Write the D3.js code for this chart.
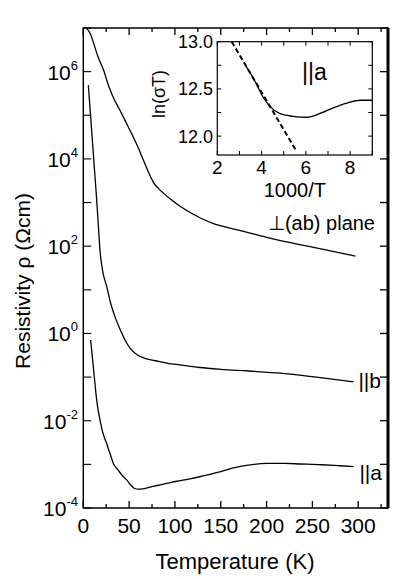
<!DOCTYPE html>
<html>
<head>
<meta charset="utf-8">
<script src="https://cdn.jsdelivr.net/npm/d3@7"></script>
<style>
  body { margin: 0; background: #fff; }
  text { font-family: "Liberation Sans", Arial, sans-serif; fill: #000; }
</style>
</head>
<body>
<svg></svg>
<script>
// perpendicular to (ab) plane
const tempPerp = [3, 5, 8, 12, 16, 22, 28, 33, 40, 47, 53, 60, 66, 72, 77, 83, 88, 95, 106, 120, 142, 160, 178, 200, 226, 250, 275, 297];
const rhoPerp = [1.0e7, 9.1e6, 7.1e6, 4.0e6, 2.2e6, 1.1e6, 4.5e5, 2.5e5, 1.3e5, 6.6e4, 3.7e4, 1.8e4, 8.9e3, 4.5e3, 2.8e3, 2.0e3, 1.6e3, 1.2e3, 8.1e2, 5.4e2, 3.3e2, 2.6e2, 2.1e2, 1.6e2, 1.2e2, 95, 74, 59];
// parallel to b
const tempB = [5.5, 8, 10, 12, 14.6, 16.5, 18.2, 21, 25.5, 30, 34.6, 40, 45.5, 51, 56.4, 65, 72.8, 82, 91, 105.6, 127, 150, 180, 215, 250, 295];
const rhoB = [4.9e5, 9.3e4, 2.5e4, 6.5e3, 1.15e3, 2.8e2, 81, 28, 12, 4.8, 2.4, 1.26, 0.71, 0.46, 0.35, 0.28, 0.25, 0.23, 0.21, 0.19, 0.166, 0.151, 0.138, 0.123, 0.102, 0.078];
// parallel to a
const tempA = [8, 10, 12, 14.6, 16.5, 18.2, 21, 25.5, 29, 32.8, 38, 43, 47.4, 51, 56, 60, 65, 70, 78, 84, 92, 102, 115, 127, 138, 150, 164, 180, 200, 220, 237, 260, 280, 295];
const rhoA = [0.71, 0.27, 0.102, 0.030, 0.016, 0.0105, 5.6e-3, 3.0e-3, 1.8e-3, 1.05e-3, 7.4e-4, 5.4e-4, 4.4e-4, 3.5e-4, 2.8e-4, 2.7e-4, 2.75e-4, 2.9e-4, 3.2e-4, 3.4e-4, 3.7e-4, 4.1e-4, 4.6e-4, 5.2e-4, 5.9e-4, 6.8e-4, 8.3e-4, 9.6e-4, 1.05e-3, 1.05e-3, 1.02e-3, 9.8e-4, 9.3e-4, 8.9e-4];

// inset: ln(sigma T) vs 1000/T for ||a
const invT = [3.3, 3.75, 4.05, 4.36, 4.81, 5.42, 6.03, 6.64, 7.24, 7.85, 8.46, 9.0];
const lnSigT = [12.74, 12.56, 12.42, 12.32, 12.24, 12.21, 12.20, 12.24, 12.30, 12.35, 12.38, 12.38];
const invTFit = [2.65, 5.55];
const lnSigTFit = [13.0, 11.85];

const xTicks = [0, 50, 100, 150, 200, 250, 300];
const yExponents = [-4, -2, 0, 2, 4, 6];
const insetXTicks = [2, 4, 6, 8];
const insetYTicks = [12.0, 12.5, 13.0];

const svg = d3.select("svg").attr("width", 395).attr("height", 579);

// main scales
const x = d3.scaleLinear().domain([0, 332.5]).range([83.3, 388]);
const y = d3.scaleLog().domain([1e-4, 1e7]).range([508, 28]);

const line = d3.line()
    .x(function(d) { return x(d[0]); })
    .y(function(d) { return y(d[1]); })
    .curve(d3.curveMonotoneX);

const series = [
    d3.zip(tempPerp, rhoPerp),
    d3.zip(tempB, rhoB),
    d3.zip(tempA, rhoA)
];

svg.append("g").selectAll("path")
    .data(series)
    .join("path")
    .attr("d", line)
    .attr("fill", "none")
    .attr("stroke", "#000")
    .attr("stroke-width", 1.3);

// ticks along x (bottom and top, pointing inward)
const xMinor = d3.range(0, 333, 25);
const gx = svg.append("g");
gx.selectAll("line.b")
    .data(xMinor)
    .join("line")
    .attr("x1", function(d) { return x(d); })
    .attr("x2", function(d) { return x(d); })
    .attr("y1", 508)
    .attr("y2", function(d) { return d % 50 === 0 ? 501 : 504; })
    .attr("stroke", "#000").attr("stroke-width", 1.3);
gx.selectAll("line.t")
    .data(xMinor)
    .join("line")
    .attr("x1", function(d) { return x(d); })
    .attr("x2", function(d) { return x(d); })
    .attr("y1", 28)
    .attr("y2", function(d) { return d % 50 === 0 ? 35 : 32; })
    .attr("stroke", "#000").attr("stroke-width", 1.3);
gx.selectAll("text")
    .data(xTicks)
    .join("text")
    .attr("x", function(d) { return x(d); })
    .attr("y", 533)
    .attr("text-anchor", "middle")
    .attr("font-size", 21)
    .text(function(d) { return d; });

// ticks along y (left and right, inward)
const yAll = y.ticks();
const isMajor = function(d) { return Math.abs(Math.log10(d) - Math.round(Math.log10(d))) < 1e-6; };
const gy = svg.append("g");
gy.selectAll("line.l")
    .data(yAll)
    .join("line")
    .attr("x1", x(0))
    .attr("x2", function(d) { return x(0) + (isMajor(d) ? 8 : 4.5); })
    .attr("y1", function(d) { return y(d); })
    .attr("y2", function(d) { return y(d); })
    .attr("stroke", "#000").attr("stroke-width", 1.1);
gy.selectAll("line.r")
    .data(yAll)
    .join("line")
    .attr("x1", x(332.5))
    .attr("x2", function(d) { return x(332.5) - (isMajor(d) ? 8 : 5); })
    .attr("y1", function(d) { return y(d); })
    .attr("y2", function(d) { return y(d); })
    .attr("stroke", "#000").attr("stroke-width", 1.3);

const yLab = gy.selectAll("text")
    .data(yExponents)
    .join("text")
    .attr("x", 78)
    .attr("y", function(d) { return y(Math.pow(10, d)) + 8; })
    .attr("text-anchor", "end")
    .attr("font-size", 21);
yLab.append("tspan").text("10");
yLab.append("tspan")
    .attr("dy", -10)
    .attr("font-size", 13)
    .text(function(d) { return d; });

// frame
svg.append("rect")
    .attr("x", x(0)).attr("y", 28)
    .attr("width", x(332.5) - x(0)).attr("height", 480)
    .attr("fill", "none").attr("stroke", "#000").attr("stroke-width", 1.5);
svg.append("line")
    .attr("x1", x(332.5)).attr("x2", x(332.5))
    .attr("y1", 28).attr("y2", 508)
    .attr("stroke", "#000").attr("stroke-width", 3);

// axis titles
svg.append("text")
    .attr("x", 235).attr("y", 569)
    .attr("text-anchor", "middle")
    .attr("font-size", 22)
    .text("Temperature (K)");
svg.append("text")
    .attr("transform", "translate(30,281) rotate(-90)")
    .attr("text-anchor", "middle")
    .attr("font-size", 21)
    .text("Resistivity ρ (Ωcm)");

// curve labels
svg.append("text").attr("x", 375).attr("y", 230).attr("text-anchor", "end")
    .attr("font-size", 20).text("⊥(ab) plane");
svg.append("text").attr("x", 381).attr("y", 388).attr("text-anchor", "end")
    .attr("font-size", 21).text("||b");
svg.append("text").attr("x", 382).attr("y", 480).attr("text-anchor", "end")
    .attr("font-size", 21).text("||a");

// inset
const ix = d3.scaleLinear().domain([2, 9]).range([217.3, 372.3]);
const iy = d3.scaleLinear().domain([11.8, 13.0]).range([155, 41.7]);

const inset = svg.append("g");
inset.append("rect")
    .attr("x", ix(2)).attr("y", iy(13.0))
    .attr("width", ix(9) - ix(2)).attr("height", iy(11.8) - iy(13.0))
    .attr("fill", "#fff");

const iline = d3.line()
    .x(function(d) { return ix(d[0]); })
    .y(function(d) { return iy(d[1]); })
    .curve(d3.curveMonotoneX);

inset.append("path")
    .attr("d", iline(d3.zip(invT, lnSigT)))
    .attr("fill", "none").attr("stroke", "#000").attr("stroke-width", 1.3);
inset.append("path")
    .attr("d", iline(d3.zip(invTFit, lnSigTFit)))
    .attr("fill", "none").attr("stroke", "#000").attr("stroke-width", 2)
    .attr("stroke-dasharray", "5,3");

const ixMinor = d3.range(2, 10, 1);
inset.selectAll("line.ib")
    .data(ixMinor)
    .join("line")
    .attr("x1", function(d) { return ix(d); }).attr("x2", function(d) { return ix(d); })
    .attr("y1", iy(11.8)).attr("y2", iy(11.8) - 4)
    .attr("stroke", "#000");
inset.selectAll("line.it")
    .data(ixMinor)
    .join("line")
    .attr("x1", function(d) { return ix(d); }).attr("x2", function(d) { return ix(d); })
    .attr("y1", iy(13.0)).attr("y2", iy(13.0) + 4)
    .attr("stroke", "#000");
const iyMinor = [12.0, 12.25, 12.5, 12.75, 13.0];
inset.selectAll("line.il")
    .data(iyMinor)
    .join("line")
    .attr("x1", ix(2)).attr("x2", ix(2) + 4)
    .attr("y1", function(d) { return iy(d); }).attr("y2", function(d) { return iy(d); })
    .attr("stroke", "#000");
inset.selectAll("line.ir")
    .data(iyMinor)
    .join("line")
    .attr("x1", ix(9)).attr("x2", ix(9) - 4)
    .attr("y1", function(d) { return iy(d); }).attr("y2", function(d) { return iy(d); })
    .attr("stroke", "#000");

inset.append("rect")
    .attr("x", ix(2)).attr("y", iy(13.0))
    .attr("width", ix(9) - ix(2)).attr("height", iy(11.8) - iy(13.0))
    .attr("fill", "none").attr("stroke", "#000").attr("stroke-width", 1.2);

inset.selectAll("text.ixl")
    .data(insetXTicks)
    .join("text")
    .attr("x", function(d) { return ix(d); })
    .attr("y", 174)
    .attr("text-anchor", "middle")
    .attr("font-size", 19)
    .text(function(d) { return d; });
inset.selectAll("text.iyl")
    .data(insetYTicks)
    .join("text")
    .attr("x", 213)
    .attr("y", function(d) { return iy(d) + 6.5; })
    .attr("text-anchor", "end")
    .attr("font-size", 18)
    .text(function(d) { return d.toFixed(1); });
inset.append("text")
    .attr("x", ix(5.5)).attr("y", 197)
    .attr("text-anchor", "middle")
    .attr("font-size", 20)
    .text("1000/T");
inset.append("text")
    .attr("transform", "translate(165,94) rotate(-90)")
    .attr("text-anchor", "middle")
    .attr("font-size", 18)
    .text("ln(σT)");
inset.append("text")
    .attr("x", 302).attr("y", 80)
    .attr("font-size", 23)
    .text("||a");
</script>
</body>
</html>
